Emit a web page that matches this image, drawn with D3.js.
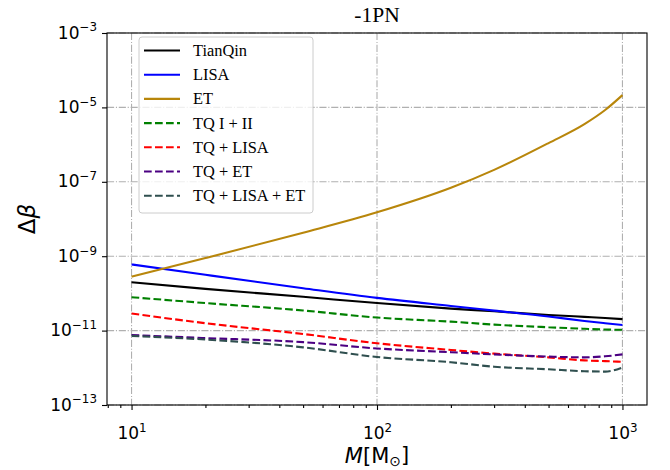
<!DOCTYPE html>
<html>
<head>
<meta charset="utf-8">
<script src="https://cdn.jsdelivr.net/npm/d3@7"></script>
<style>
  body { margin: 0; background: #fff; }
</style>
</head>
<body>
<div id="chart"></div>
<script>
// masses in solar masses
const masses     = [10, 20, 50, 100, 200, 300, 500, 700, 850, 1000]
const tianqin    = [2.0e-10, 1.32e-10, 8.1e-11, 5.5e-11, 3.9e-11, 3.3e-11, 2.63e-11, 2.34e-11, 2.19e-11, 2.04e-11]
const lisa       = [6.0e-10, 3.16e-10, 1.38e-10, 7.6e-11, 4.6e-11, 3.45e-11, 2.4e-11, 1.82e-11, 1.58e-11, 1.41e-11]
const et         = [2.82e-10, 8.9e-10, 4.27e-9, 1.51e-8, 6.9e-8, 2.09e-7, 1.10e-6, 3.55e-6, 8.5e-6, 2.14e-5]
const tq12       = [7.9e-11, 5.5e-11, 3.47e-11, 2.24e-11, 1.74e-11, 1.45e-11, 1.23e-11, 1.12e-11, 1.07e-11, 1.05e-11]
const tqLisa     = [2.88e-11, 1.58e-11, 8.1e-12, 4.57e-12, 3.02e-12, 2.4e-12, 1.91e-12, 1.58e-12, 1.51e-12, 1.45e-12]
const tqEt       = [7.6e-12, 6.3e-12, 4.9e-12, 3.31e-12, 2.63e-12, 2.29e-12, 2.0e-12, 1.91e-12, 2.04e-12, 2.29e-12]
const tqLisaEt   = [7.2e-12, 5.75e-12, 3.55e-12, 1.95e-12, 1.41e-12, 1.07e-12, 9.1e-13, 8.1e-13, 7.9e-13, 1.02e-12]

const seriesNames = ['TianQin', 'LISA', 'ET', 'TQ I + II', 'TQ + LISA', 'TQ + ET', 'TQ + LISA + ET']
const xTickExps = [1, 2, 3]
const yTickExps = [-13, -11, -9, -7, -5, -3]

const series = [
  { name: seriesNames[0], values: tianqin,  color: '#000000', dashed: false },
  { name: seriesNames[1], values: lisa,     color: '#0000ff', dashed: false },
  { name: seriesNames[2], values: et,       color: '#b8860b', dashed: false },
  { name: seriesNames[3], values: tq12,     color: '#008000', dashed: true },
  { name: seriesNames[4], values: tqLisa,   color: '#ff0000', dashed: true },
  { name: seriesNames[5], values: tqEt,     color: '#4b0082', dashed: true },
  { name: seriesNames[6], values: tqLisaEt, color: '#2f4f4f', dashed: true }
]

const margin = { top: 33, right: 23, bottom: 65, left: 107 }
const width = 670 - margin.left - margin.right
const height = 470 - margin.top - margin.bottom

const svg = d3.select('#chart')
  .append('svg')
  .attr('width', width + margin.left + margin.right)
  .attr('height', height + margin.top + margin.bottom)
  .append('g')
  .attr('transform', `translate(${margin.left}, ${margin.top})`)

// matplotlib-style 5% margin in log space
const lo = Math.log10(d3.min(masses)), hi = Math.log10(d3.max(masses))
const pad = (hi - lo) * 0.05
const xScale = d3.scaleLog().domain([10 ** (lo - pad), 10 ** (hi + pad)]).range([0, width])
const yScale = d3.scaleLog().domain([10 ** yTickExps[0], 10 ** yTickExps[yTickExps.length - 1]]).range([height, 0])

const xMajor = xTickExps.map(e => 10 ** e)
const yMajor = yTickExps.map(e => 10 ** e)
const xMinor = []
for (let d = 0; d <= 3; d++)
  for (let k = 2; k <= 9; k++) {
    const v = k * 10 ** d
    if (v >= xScale.domain()[0] && v <= xScale.domain()[1]) xMinor.push(v)
  }

/* grid */
const grid = svg.append('g')
  .attr('stroke', '#b0b0b0')
  .attr('stroke-width', 1.1)
  .attr('stroke-dasharray', '7.1,1.8,1.1,1.8')
grid.selectAll('.gx').data(xMajor).enter().append('line')
  .attr('x1', d => xScale(d)).attr('x2', d => xScale(d))
  .attr('y1', 0).attr('y2', height)
grid.selectAll('.gy').data(yMajor).enter().append('line')
  .attr('y1', d => yScale(d)).attr('y2', d => yScale(d))
  .attr('x1', 0).attr('x2', width)

/* lines */
svg.append('clipPath').attr('id', 'clip')
  .append('rect').attr('width', width).attr('height', height)

const line = d3.line()
  .x((d, i) => xScale(masses[i]))
  .y(d => yScale(d))
  .curve(d3.curveMonotoneX)

svg.append('g').attr('clip-path', 'url(#clip)')
  .selectAll('path')
  .data(series)
  .enter()
  .append('path')
  .attr('d', d => line(d.values))
  .attr('fill', 'none')
  .attr('stroke', d => d.color)
  .attr('stroke-width', 2.1)
  .attr('stroke-dasharray', d => d.dashed ? '7.7,3.3' : null)

/* axes */
function powLabel(sel) {
  sel.selectAll('.tick text').each(function(d) {
    const t = d3.select(this)
    const e = Math.round(Math.log10(d))
    t.text(null)
    t.append('tspan').text('10')
    t.append('tspan').attr('dy', '-0.6em').attr('font-size', '0.7em')
      .text(String(e).replace('-', '\u2212'))
  })
}

const yAxis = d3.axisLeft(yScale).tickValues(yMajor).tickSize(5).tickPadding(5)
const gy = svg.append('g').call(yAxis)
gy.call(powLabel)
gy.selectAll('.tick text').attr('dy', '0.3em')

const xAxis = d3.axisBottom(xScale).tickValues(xMajor).tickSize(5).tickPadding(5)
const gx = svg.append('g').attr('transform', `translate(0, ${height})`).call(xAxis)
gx.call(powLabel)
gx.selectAll('.tick text').attr('y', 34).attr('dy', 0)

const xMinorAxis = d3.axisBottom(xScale).tickValues(xMinor).tickSize(3).tickFormat('')
svg.append('g').attr('transform', `translate(0, ${height})`).call(xMinorAxis)
  .select('.domain').remove()

svg.selectAll('.tick text')
  .attr('font-family', '"DejaVu Sans", sans-serif')
  .attr('font-size', 17)
  .attr('fill', '#000')
svg.selectAll('.tick line').attr('stroke', '#000').attr('stroke-width', 1.1)
svg.selectAll('.domain').remove()

// frame
svg.append('rect')
  .attr('width', width).attr('height', height)
  .attr('fill', 'none').attr('stroke', '#000').attr('stroke-width', 1.1)

/* legend */
const legend = svg.append('g').attr('transform', `translate(${139 - margin.left}, ${37 - margin.top})`)
legend.append('rect')
  .attr('width', 174).attr('height', 176).attr('rx', 3)
  .attr('fill', 'white').attr('fill-opacity', 0.8)
  .attr('stroke', '#cccccc').attr('stroke-width', 1)

const rows = legend.selectAll('.row').data(series).enter().append('g')
  .attr('transform', (d, i) => `translate(0, ${13.5 + i * 24.2})`)
rows.append('line')
  .attr('x1', 5).attr('x2', 41)
  .attr('stroke', d => d.color).attr('stroke-width', 2.1)
  .attr('stroke-dasharray', d => d.dashed ? '7.7,3.3' : null)
rows.append('text')
  .attr('x', 54).attr('dy', '0.33em')
  .style('font-family', '"Liberation Serif", "Times New Roman", serif')
  .style('font-size', '16.4px')
  .style('fill', 'black')
  .text(d => d.name)

// title
svg.append('text')
  .attr('transform', `translate(${width / 2}, -11)`)
  .style('text-anchor', 'middle')
  .style('font-family', '"Liberation Serif", "Times New Roman", serif')
  .style('font-size', '21.5px')
  .style('fill', 'black')
  .text('-1PN')

// y label
const yl = svg.append('text')
  .attr('transform', `translate(${35 - margin.left}, ${height / 2}) rotate(-90)`)
  .style('text-anchor', 'middle')
  .style('font-family', '"DejaVu Sans", sans-serif')
  .style('font-size', '23px')
  .style('fill', 'black')
yl.append('tspan').text('\u0394')
yl.append('tspan').style('font-style', 'italic').text('\u03b2')

// x label
const xl = svg.append('text')
  .attr('transform', `translate(${width / 2}, ${height + 58})`)
  .style('text-anchor', 'middle')
  .style('font-family', '"DejaVu Sans", sans-serif')
  .style('font-size', '21px')
  .style('fill', 'black')
xl.append('tspan').style('font-style', 'italic').text('M')
xl.append('tspan').text('[M')
xl.append('tspan').attr('dy', '0.2em').style('font-size', '14px').text('\u2299')
xl.append('tspan').attr('dy', '-0.2em').text(']')
</script>
</body>
</html>
